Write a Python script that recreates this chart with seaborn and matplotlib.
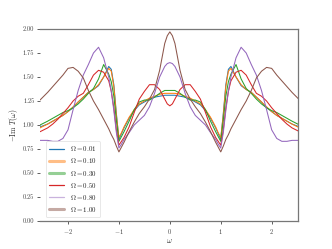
import matplotlib
matplotlib.use("Agg")
from matplotlib import pyplot as plt
from matplotlib.lines import Line2D
import seaborn as sns
import numpy as np
import pandas as pd

# right half of the curves (they are symmetric in omega)
omega_half = [0.0, 0.05, 0.1, 0.2, 0.3, 0.4, 0.5, 0.6, 0.7, 0.8, 0.9, 0.95, 1.0,
              1.05, 1.1, 1.15, 1.2, 1.3, 1.4, 1.5, 1.6, 1.7, 1.8, 1.9, 2.0,
              2.1, 2.2, 2.3, 2.4, 2.55]

om_001 = [1.31, 1.31, 1.31, 1.30, 1.29, 1.27, 1.24, 1.21, 1.15, 1.07, 0.97, 0.91, 0.85,
          1.12, 1.42, 1.58, 1.61, 1.50, 1.41, 1.37, 1.34, 1.29, 1.24, 1.18, 1.14,
          1.10, 1.07, 1.04, 1.01, 0.98]
om_010 = [1.33, 1.33, 1.33, 1.32, 1.30, 1.28, 1.25, 1.22, 1.16, 1.08, 0.98, 0.92, 0.87,
          1.10, 1.40, 1.56, 1.59, 1.50, 1.42, 1.37, 1.34, 1.29, 1.24, 1.19, 1.14,
          1.10, 1.07, 1.04, 1.01, 0.97]
om_030 = [1.36, 1.36, 1.36, 1.33, 1.29, 1.26, 1.26, 1.24, 1.16, 1.04, 0.93, 0.88, 0.83,
          1.05, 1.30, 1.45, 1.53, 1.63, 1.48, 1.38, 1.33, 1.27, 1.22, 1.18, 1.15,
          1.13, 1.10, 1.07, 1.04, 1.00]
om_050 = [1.20, 1.22, 1.27, 1.37, 1.42, 1.42, 1.35, 1.27, 1.13, 0.98, 0.87, 0.83, 0.79,
          0.95, 1.18, 1.35, 1.46, 1.55, 1.57, 1.52, 1.42, 1.33, 1.30, 1.25, 1.18,
          1.12, 1.06, 1.01, 0.97, 0.93]
om_080 = [1.65, 1.64, 1.61, 1.50, 1.33, 1.19, 1.10, 1.05, 1.00, 0.92, 0.85, 0.80, 0.76,
          0.92, 1.15, 1.35, 1.50, 1.70, 1.81, 1.75, 1.63, 1.52, 1.36, 1.16, 0.95,
          0.86, 0.83, 0.83, 0.84, 0.84]
om_100 = [1.97, 1.93, 1.85, 1.57, 1.37, 1.27, 1.19, 1.12, 1.03, 0.93, 0.82, 0.77, 0.72,
          0.78, 0.85, 0.90, 0.96, 1.06, 1.16, 1.25, 1.36, 1.49, 1.56, 1.60, 1.59,
          1.52, 1.46, 1.40, 1.34, 1.26]

labels = [r'$\Omega=0.01$', r'$\Omega=0.10$', r'$\Omega=0.30$',
          r'$\Omega=0.50$', r'$\Omega=0.80$', r'$\Omega=1.00$']
series = [om_001, om_010, om_030, om_050, om_080, om_100]

rows = []
for lab, vals in zip(labels, series):
    x = np.concatenate([-np.array(omega_half[:0:-1]), omega_half])
    y = np.concatenate([np.array(vals[:0:-1]), vals])
    rows.append(pd.DataFrame({'omega': x, 'val': y, 'label': lab}))
df = pd.concat(rows, ignore_index=True)

sns.set_style('white')
plt.rcParams['mathtext.fontset'] = 'cm'
plt.rcParams['font.family'] = ['cmr10', 'DejaVu Serif']
plt.rcParams['axes.formatter.use_mathtext'] = True
plt.rcParams['axes.unicode_minus'] = True

fig = plt.figure(figsize=(3.32, 2.49), dpi=100)
ax = fig.add_axes([0.1205, 0.1124, 0.7775, 0.7711])

colors = sns.color_palette('tab10', 6)
palette = dict(zip(labels, colors))
sns.lineplot(data=df, x='omega', y='val', hue='label', palette=palette,
             estimator=None, sort=False, linewidth=0.75, ax=ax, legend=False)

ax.set_xlim(-2.55, 2.52)
ax.set_ylim(0, 2)
ax.set_yticks([0, 0.25, 0.5, 0.75, 1.0, 1.25, 1.5, 1.75, 2.0])
ax.set_yticklabels(['0.00', '0.25', '0.50', '0.75', '1.00', '1.25', '1.50', '1.75', '2.00'])
ax.set_xticks([-2, -1, 0, 1, 2])
ax.set_xticklabels([r'$-2$', r'$-1$', r'$0$', r'$1$', r'$2$'])
ax.tick_params(labelsize=4.7, length=2, width=0.6, colors='#444444', pad=2,
               left=True, bottom=True)
ax.set_xlabel(r'$\omega$', fontsize=5.5, labelpad=1)
ax.set_ylabel(r'$-\mathrm{Im}\ T(\omega)$', fontsize=5.5, labelpad=2)

ax.spines['left'].set_visible(False)
for s in ['top', 'right', 'bottom']:
    ax.spines[s].set_color('#777777')
    ax.spines[s].set_linewidth(0.9)

# legend handles: some entries are drawn thick and faded as in the original
styles = [(0.9, 1.0), (2.2, 0.5), (2.2, 0.5), (0.9, 1.0), (0.9, 0.5), (2.2, 0.5)]
handles = [Line2D([], [], color=c, linewidth=lw, alpha=a)
           for c, (lw, a) in zip(colors, styles)]
leg = ax.legend(handles, labels, loc='lower left', bbox_to_anchor=(6 / 258, 4 / 192),
                borderaxespad=0, fontsize=5, frameon=True,
                handlelength=2.2, labelspacing=0.45, borderpad=0.45, handletextpad=0.8)
leg.get_frame().set_edgecolor('#dddddd')
leg.get_frame().set_linewidth(0.6)

fig.savefig('out.png', dpi=100)
